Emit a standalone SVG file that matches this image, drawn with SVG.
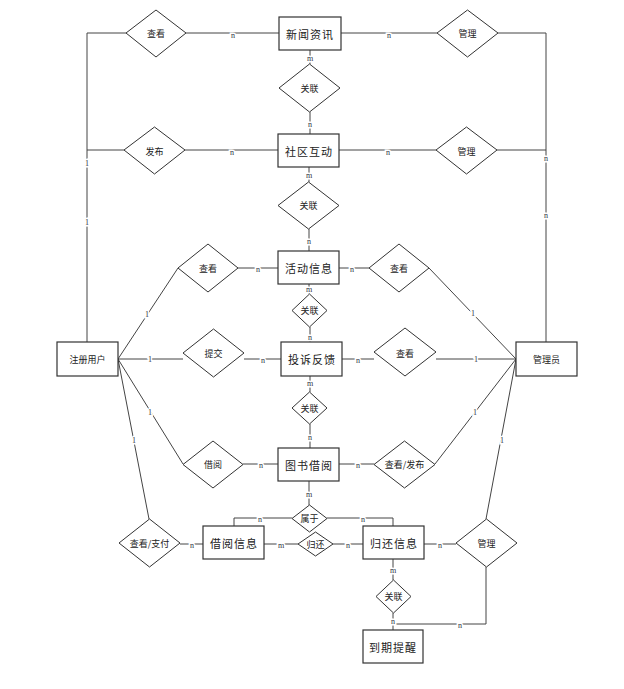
<svg xmlns="http://www.w3.org/2000/svg" width="624" height="689" viewBox="0 0 624 689">
<style>
.e{fill:#fff;stroke:#333;stroke-width:1.2}
.d{fill:#fff;stroke:#333;stroke-width:1}
.et{font-family:"Noto Sans CJK SC","Liberation Sans",sans-serif;font-size:11px;letter-spacing:1px;fill:#222;text-anchor:middle;dominant-baseline:central}
.dt{font-family:"Noto Sans CJK SC","Liberation Sans",sans-serif;font-size:9px;fill:#222;text-anchor:middle;dominant-baseline:central}
.c{fill:none;stroke:#444;stroke-width:1}
.l{font-family:"Liberation Serif",serif;font-size:8px;fill:#334;text-anchor:middle;dominant-baseline:central;paint-order:stroke;stroke:#fff;stroke-width:3px}
</style>
<rect width="624" height="689" fill="#fff"/>
<g id="connectors">
<polyline class="c" points="87,342 87,33 126,33"/>
<line class="c" x1="87" y1="150" x2="124" y2="150"/>
<line class="c" x1="186" y1="33" x2="279" y2="33"/>
<line class="c" x1="185" y1="150" x2="278" y2="150"/>
<line class="c" x1="341" y1="33" x2="437" y2="33"/>
<line class="c" x1="339" y1="150" x2="436" y2="150"/>
<polyline class="c" points="498,33 546,33 546,342"/>
<line class="c" x1="497" y1="150" x2="546" y2="150"/>
<line class="c" x1="310" y1="50" x2="310" y2="64"/>
<line class="c" x1="310" y1="112" x2="310" y2="134"/>
<line class="c" x1="309" y1="167" x2="309" y2="182"/>
<line class="c" x1="309" y1="229" x2="309" y2="251"/>
<line class="c" x1="309" y1="284" x2="309" y2="294"/>
<line class="c" x1="310" y1="327" x2="310" y2="342"/>
<line class="c" x1="310" y1="376" x2="310" y2="392"/>
<line class="c" x1="310" y1="424" x2="310" y2="448"/>
<line class="c" x1="309" y1="481" x2="309" y2="505"/>
<polyline class="c" points="292,518 234,518 234,526"/>
<polyline class="c" points="327,518 393,518 393,526"/>
<line class="c" x1="264" y1="544" x2="298" y2="544"/>
<line class="c" x1="333" y1="544" x2="363" y2="544"/>
<line class="c" x1="424" y1="544" x2="456" y2="544"/>
<polyline class="c" points="486,567 486,624 393,624"/>
<line class="c" x1="393" y1="559" x2="393" y2="580"/>
<line class="c" x1="393" y1="613" x2="393" y2="630"/>
<line class="c" x1="180" y1="544" x2="203" y2="544"/>
<line class="c" x1="339" y1="464" x2="374" y2="464"/>
<line class="c" x1="243" y1="464" x2="278" y2="464"/>
<line class="c" x1="342" y1="359" x2="374" y2="359"/>
<line class="c" x1="436" y1="359" x2="516" y2="359"/>
<line class="c" x1="339" y1="268" x2="369" y2="268"/>
<line class="c" x1="238" y1="268" x2="278" y2="268"/>
<line class="c" x1="429" y1="268" x2="516" y2="359"/>
<line class="c" x1="435" y1="464" x2="516" y2="359"/>
<line class="c" x1="486" y1="519" x2="516" y2="359"/>
<line class="c" x1="118" y1="359" x2="178" y2="268"/>
<line class="c" x1="118" y1="359" x2="183" y2="359"/>
<line class="c" x1="244" y1="359" x2="281" y2="359"/>
<line class="c" x1="118" y1="359" x2="183" y2="464"/>
<line class="c" x1="118" y1="359" x2="149" y2="519"/>
<text class="l" x="87" y="163">1</text>
<text class="l" x="87" y="222">1</text>
<text class="l" x="233" y="35">n</text>
<text class="l" x="232" y="152">n</text>
<text class="l" x="389" y="35">n</text>
<text class="l" x="388" y="152">n</text>
<text class="l" x="546" y="158">n</text>
<text class="l" x="546" y="215">n</text>
<text class="l" x="310" y="58">m</text>
<text class="l" x="310" y="124">n</text>
<text class="l" x="309" y="175">m</text>
<text class="l" x="309" y="241">n</text>
<text class="l" x="309" y="289">m</text>
<text class="l" x="310" y="337">n</text>
<text class="l" x="310" y="383">m</text>
<text class="l" x="310" y="437">n</text>
<text class="l" x="309" y="494">m</text>
<text class="l" x="260" y="519">n</text>
<text class="l" x="363" y="519">n</text>
<text class="l" x="281" y="545">m</text>
<text class="l" x="348" y="545">n</text>
<text class="l" x="440" y="545">n</text>
<text class="l" x="460" y="625">n</text>
<text class="l" x="393" y="570">m</text>
<text class="l" x="393" y="621">n</text>
<text class="l" x="192" y="545">n</text>
<text class="l" x="358" y="465">n</text>
<text class="l" x="261" y="465">n</text>
<text class="l" x="358" y="360">n</text>
<text class="l" x="476" y="359">1</text>
<text class="l" x="352" y="269">n</text>
<text class="l" x="258" y="269">n</text>
<text class="l" x="473" y="313">1</text>
<text class="l" x="475" y="412">1</text>
<text class="l" x="502" y="440">1</text>
<text class="l" x="147" y="314">1</text>
<text class="l" x="150" y="359">1</text>
<text class="l" x="263" y="360">n</text>
<text class="l" x="150" y="412">1</text>
<text class="l" x="134" y="440">1</text>
</g>
<g id="news"><rect class="e" x="279" y="17" width="62" height="33"/><text class="et" x="310" y="33.5">新闻资讯</text></g>
<g id="community"><rect class="e" x="278" y="134" width="61" height="33"/><text class="et" x="309" y="150.5">社区互动</text></g>
<g id="activity"><rect class="e" x="278" y="251" width="61" height="33"/><text class="et" x="309" y="267.5">活动信息</text></g>
<g id="complaint"><rect class="e" x="281" y="342" width="61" height="34"/><text class="et" x="312" y="359">投诉反馈</text></g>
<g id="bookborrow"><rect class="e" x="278" y="448" width="61" height="33"/><text class="et" x="309" y="464.5">图书借阅</text></g>
<g id="borrowinfo"><rect class="e" x="203" y="526" width="61" height="33"/><text class="et" x="234" y="543">借阅信息</text></g>
<g id="returninfo"><rect class="e" x="363" y="526" width="61" height="33"/><text class="et" x="394" y="543">归还信息</text></g>
<g id="reminder"><rect class="e" x="363" y="630" width="60" height="33"/><text class="et" x="393" y="647">到期提醒</text></g>
<g id="user"><rect class="e" x="57" y="342" width="61" height="34"/><text class="dt" x="87.5" y="359">注册用户</text></g>
<g id="admin"><rect class="e" x="516" y="342" width="61" height="34"/><text class="dt" x="546.5" y="359">管理员</text></g>
<g id="r-view-news"><polygon class="d" points="126,33 156,10 186,33 156,57"/><text class="dt" x="156" y="33">查看</text></g>
<g id="r-publish"><polygon class="d" points="124,150 154.5,127 185,150 154.5,174"/><text class="dt" x="154.5" y="151">发布</text></g>
<g id="r-manage-news"><polygon class="d" points="437,33 467.5,10 498,33 467.5,57"/><text class="dt" x="467.5" y="33">管理</text></g>
<g id="r-manage-comm"><polygon class="d" points="436,150 466.5,127 497,150 466.5,174"/><text class="dt" x="466.5" y="151">管理</text></g>
<g id="r-rel1"><polygon class="d" points="279,88 309.5,64 340,88 309.5,112"/><text class="dt" x="309.5" y="88">关联</text></g>
<g id="r-rel2"><polygon class="d" points="278,205.5 308.5,182 339,205.5 308.5,229"/><text class="dt" x="308.5" y="205.5">关联</text></g>
<g id="r-view-act"><polygon class="d" points="178,268 208,244 238,268 208,292"/><text class="dt" x="208" y="268">查看</text></g>
<g id="r-rel3"><polygon class="d" points="292,310.5 309.5,294 327,310.5 309.5,327"/><text class="dt" x="309.5" y="310.5">关联</text></g>
<g id="r-submit"><polygon class="d" points="183,353 213.5,329 244,353 213.5,377"/><text class="dt" x="213.5" y="353">提交</text></g>
<g id="r-view-act2"><polygon class="d" points="369,268 399,244 429,268 399,292"/><text class="dt" x="399" y="268">查看</text></g>
<g id="r-view-comp"><polygon class="d" points="374,352 405,328 436,352 405,376"/><text class="dt" x="405" y="353">查看</text></g>
<g id="r-rel4"><polygon class="d" points="292,408 309.5,392 327,408 309.5,424"/><text class="dt" x="309.5" y="408">关联</text></g>
<g id="r-borrow"><polygon class="d" points="183,464.5 213,441 243,464.5 213,488"/><text class="dt" x="213" y="464.5">借阅</text></g>
<g id="r-viewpub"><polygon class="d" points="374,464.5 404.5,441 435,464.5 404.5,488"/><text class="dt" x="404.5" y="464.5">查看/发布</text></g>
<g id="r-belong"><polygon class="d" points="292,518.5 309.5,505 327,518.5 309.5,532"/><text class="dt" x="309.5" y="518.5">属于</text></g>
<g id="r-return"><polygon class="d" points="298,544 315.5,532 333,544 315.5,556"/><text class="dt" x="315.5" y="544">归还</text></g>
<g id="r-viewpay"><polygon class="d" points="119,543 149.5,519 180,543 149.5,567"/><text class="dt" x="149.5" y="543">查看/支付</text></g>
<g id="r-manage-ret"><polygon class="d" points="456,543 486.5,519 517,543 486.5,567"/><text class="dt" x="486.5" y="543">管理</text></g>
<g id="r-rel5"><polygon class="d" points="376,596.5 393.5,580 411,596.5 393.5,613"/><text class="dt" x="393.5" y="596.5">关联</text></g>
</svg>
